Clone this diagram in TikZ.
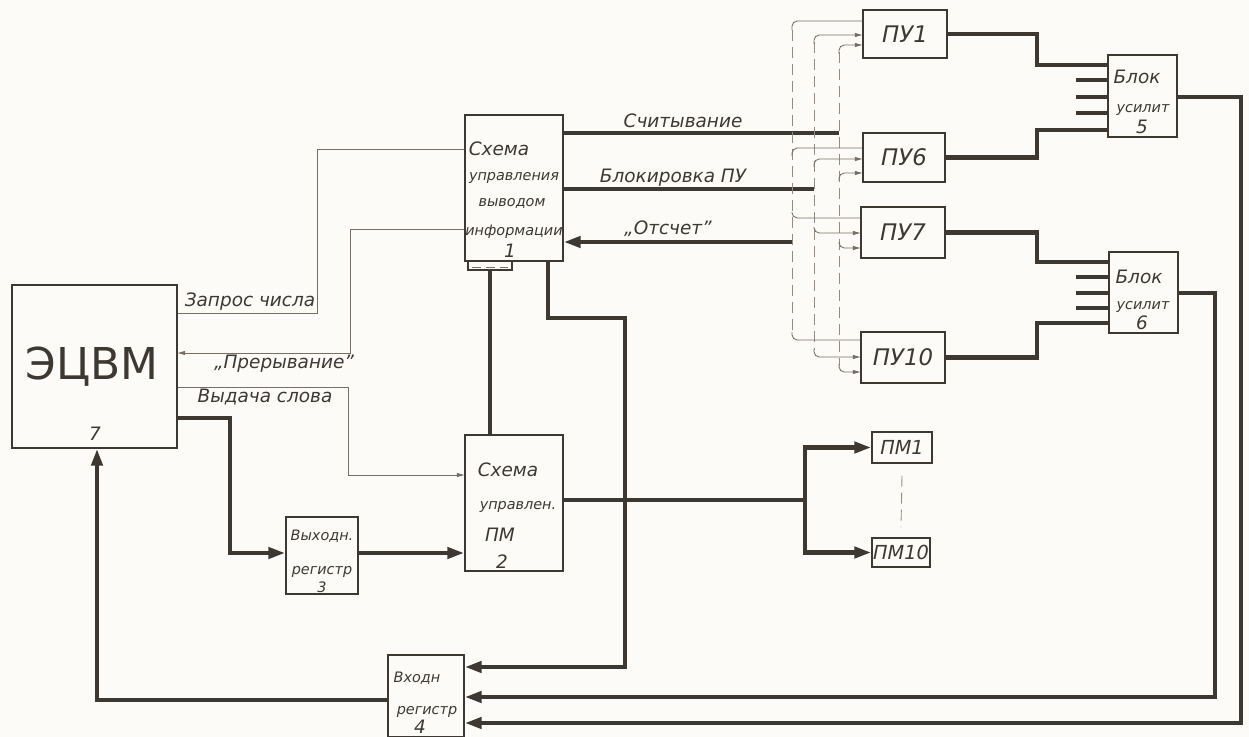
\documentclass[tikz,border=0pt]{standalone}
\usepackage{fontspec}
\setmainfont{DejaVu Sans}
\usepackage{xcolor}
\usetikzlibrary{arrows.meta, positioning, calc, fit}
\definecolor{paper}{RGB}{252,251,248}
\definecolor{inkdark}{RGB}{62,56,50}
\definecolor{inkthin}{RGB}{120,110,100}
\definecolor{inkdash}{RGB}{150,140,125}

\tikzset{
  box/.style={draw=inkdark, line width=0.8pt, inner sep=0pt, fit={#1}},
  bus/.style={draw=inkdark, line width=2.6pt},
  busarrow/.style={bus, -{Triangle[length=0.34cm, width=0.22cm]}},
  sig/.style={draw=inkthin, line width=0.5pt},
  sigarrow/.style={sig, -{Triangle[length=0.15cm, width=0.08cm]}},
  bundle/.style={draw=inkdash, line width=0.5pt, dash pattern=on 0.22cm off 0.12cm},
  lbl/.style={text=inkdark, inner sep=1pt, font=\itshape\fontsize{10.5}{12}\selectfont},
  lblsm/.style={lbl, font=\itshape\fontsize{8.2}{10}\selectfont},
  lblpu/.style={text=inkdark, inner sep=1pt, font=\itshape\fontsize{13}{15}\selectfont},
  lblpm/.style={lblpu, font=\itshape\fontsize{11}{13}\selectfont},
  lblbig/.style={text=inkdark, font=\fontsize{25}{30}\selectfont},
}

\begin{document}
\begin{tikzpicture}[x=0.02cm, y=-0.02cm]
  \useasboundingbox (0,0) rectangle (1249,737);
  \fill[paper] (0,0) rectangle (1249,737);

  % Blocks
  \node[box={(12,285) (177,448)}] (ecvm) {};
  \node[lblbig] (ecvm-t) at (92,367) {ЭЦВМ};
  \node[lbl] (ecvm-n) at (95,434) {7};

  \node[box={(465,115) (563,261)}] (cu) {};
  \node[lbl] (cu-t1) at (499,149) {Схема};
  \node[lblsm] (cu-t2) at (514,178) {управления};
  \node[lblsm] (cu-t3) at (512,203) {выводом};
  \node[lblsm] (cu-t4) at (514,232) {информации};
  \node[lbl] (cu-n) at (510,251) {1};
  \node[box={(468,261) (512,270)}] (cutab) {};
  \draw[sig, dash pattern=on 5pt off 3pt] (472,267) -- (508,267);

  \node[box={(465,435) (563,571)}] (mc) {};
  \node[lbl] (mc-t1) at (508,470) {Схема};
  \node[lblsm] (mc-t2) at (518,507) {управлен.};
  \node[lbl] (mc-t3) at (500,535) {ПМ};
  \node[lbl] (mc-n) at (502,562) {2};

  \node[box={(286,517) (358,594)}] (oreg) {};
  \node[lblsm] (oreg-t1) at (322,536) {Выходн.};
  \node[lblsm] (oreg-t2) at (322,572) {регистр};
  \node[lblsm] (oreg-n) at (322,587) {3};

  \node[box={(388,655) (464,737)}] (ireg) {};
  \node[lblsm] (ireg-t1) at (417,678) {Входн};
  \node[lblsm] (ireg-t2) at (427,712) {регистр};
  \node[lbl] (ireg-n) at (420,727) {4};

  \node[box={(863,10) (947,58)}] (pu1) {};
  \node[box={(863,133) (945,182)}] (pu6) {};
  \node[box={(861,207) (945,258)}] (pu7) {};
  \node[box={(861,332) (945,383)}] (pu10) {};
  \foreach \pu/\txt in {pu1/ПУ1, pu6/ПУ6, pu7/ПУ7, pu10/ПУ10}
    \node[lblpu] (\pu-t) at (\pu) {\txt};
  \node[box={(872,432) (932,463)}] (pm1) {};
  \node[box={(872,538) (930,567)}] (pm10) {};
  \node[lblpm] (pm1-t) at (pm1) {ПМ1};
  \node[lblpm] (pm10-t) at (pm10) {ПМ10};

  \node[box={(1108,55) (1177,137)}] (amp5) {};
  \node[lbl] (amp5-t1) at (1137,77) {Блок};
  \node[lblsm] (amp5-t2) at (1143,110) {усилит};
  \node[lbl] (amp5-n) at (1142,127) {5};
  \node[box={(1109,252) (1178,333)}] (amp6) {};
  \node[lbl] (amp6-t1) at (1139,277) {Блок};
  \node[lblsm] (amp6-t2) at (1143,307) {усилит};
  \node[lbl] (amp6-n) at (1142,323) {6};

  % Thin control lines
  \draw[sig] (ecvm.east |- 0,313) -- (317,313) |- (cu.west |- 0,149);
  \draw[sigarrow] (cu.west |- 0,229) -| (350,353) -- (ecvm.east |- 0,353);
  \draw[sigarrow] (ecvm.east |- 0,387) -- (348,387) |- (mc.west |- 0,475);
  \node[lbl] (l-zapros) at (250,302) {Запрос числа};
  \node[lbl] (l-prer) at (284,364) {„Прерывание”};
  \node[lbl] (l-vyd) at (265,397) {Выдача слова};

  % Buses
  \draw[busarrow] (ecvm.east |- 0,418) -| (230,553) -- (oreg.west |- 0,553);
  \draw[busarrow] (oreg.east |- 0,553) -- (mc.west |- 0,553);
  \draw[bus] (cutab.south) -- (cutab.south |- mc.north);
  \draw[busarrow] (cu.south -| 548,0) |- (625,318) |- (ireg.east |- 0,667);
  \draw[bus] (cu.east |- 0,133) -- (839,133);
  \draw[bus] (cu.east |- 0,189) -- (814,189);
  \draw[busarrow] (792,242) -- (cu.east |- 0,242);
  \node[lbl] (l-sch) at (683,121) {Считывание};
  \node[lbl] (l-blok) at (673,178) {Блокировка ПУ};
  \node[lbl] (l-ots) at (668,229) {„Отсчет”};

  \draw[bus] (mc.east |- 0,500) -- (805,500);
  \draw[busarrow] (805,500) |- (pm1.west);
  \draw[busarrow] (805,500) |- (pm10.west);
  \draw[bundle] ($(pm1.south)+(0,12)$) -- ($(pm10.north)+(0,-10)$);

  \draw[bus] (pu1.east) -| (1037,65) -- (amp5.west |- 0,65);
  \draw[bus] (pu6.east) -| (1037,130) -- (amp5.west |- 0,130);
  \draw[bus] (pu7.east) -| (1037,262) -- (amp6.west |- 0,262);
  \draw[bus] (pu10.east) -| (1037,323) -- (amp6.west |- 0,323);
  \foreach \y in {80,97,113}
    \draw[bus] (1076,\y) -- (amp5.west |- 0,\y);
  \foreach \y in {277,293,308}
    \draw[bus] (1076,\y) -- (amp6.west |- 0,\y);

  \draw[busarrow] (amp5.east |- 0,97) -| (1241,723) -- (ireg.east |- 0,723);
  \draw[busarrow] (amp6.east |- 0,293) -| (1215,697) -- (ireg.east |- 0,697);
  \draw[busarrow] (ireg.west |- 0,700) -| (ecvm.south -| 97,0);

  % Dashed bundle to the ПУ
  \foreach \x/\a/\b in {792/30/334, 814/42/350, 839/52/366}
    \draw[bundle] (\x,\a) -- (\x,\b);
  \foreach \pu/\ya/\yb/\yc/\d in {pu1/21/35/45/9, pu6/148/159/173/8, pu7/218/233/248/-6, pu10/340/357/372/-8} {
    \draw[sig, rounded corners=3pt] (792,\ya+\d) |- (\pu.west |- 0,\ya);
    \draw[sigarrow, rounded corners=3pt] (814,\yb+\d) |- (\pu.west |- 0,\yb);
    \draw[sigarrow, rounded corners=3pt] (839,\yc+\d) |- (\pu.west |- 0,\yc);
  }
\end{tikzpicture}
\end{document}
